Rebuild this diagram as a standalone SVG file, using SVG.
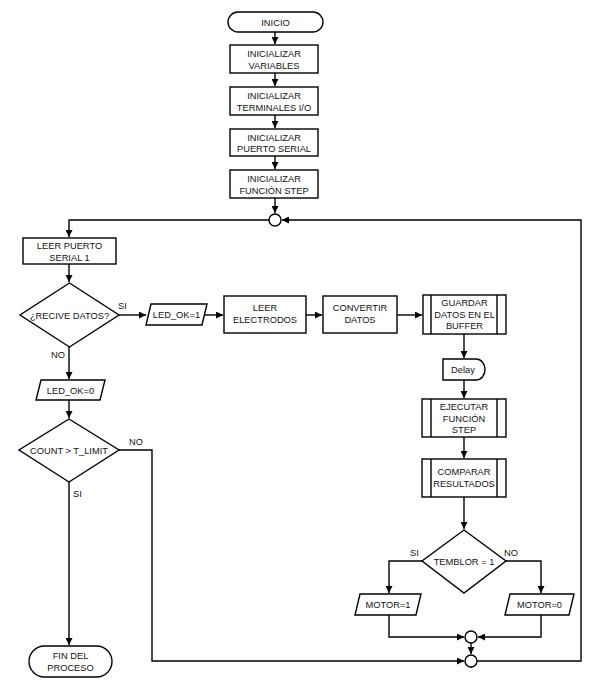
<svg xmlns="http://www.w3.org/2000/svg" width="599" height="683" viewBox="0 0 599 683">
<style>
.s{fill:#fff;stroke:#000;stroke-width:1.4}
.l{fill:none;stroke:#000;stroke-width:1.4}
text{font-family:"Liberation Sans",Arial,sans-serif;font-size:9.3px;fill:#111;text-anchor:middle}
.lb{text-anchor:start}
</style>
<defs>
<marker id="a" viewBox="0 0 10 10" refX="10" refY="5" markerWidth="7" markerHeight="7" markerUnits="userSpaceOnUse" orient="auto"><path d="M0,0L10,5L0,10z" fill="#000"/></marker>
</defs>
<g id="connectors">
<path class="l" d="M275,32V44" marker-end="url(#a)"/>
<path class="l" d="M275,73V86" marker-end="url(#a)"/>
<path class="l" d="M275,115V128" marker-end="url(#a)"/>
<path class="l" d="M275,156V169" marker-end="url(#a)"/>
<path class="l" d="M275,198V213" marker-end="url(#a)"/>
<path class="l" d="M269,220H69V237" marker-end="url(#a)"/>
<path class="l" d="M471,668V661M477,661H581V220H282" marker-end="url(#a)"/>
<path class="l" d="M69,264V282" marker-end="url(#a)"/>
<path class="l" d="M119,315H146" marker-end="url(#a)"/>
<path class="l" d="M205,315H223" marker-end="url(#a)"/>
<path class="l" d="M306,315H322" marker-end="url(#a)"/>
<path class="l" d="M397,315H422" marker-end="url(#a)"/>
<path class="l" d="M69,347V379" marker-end="url(#a)"/>
<path class="l" d="M69,400V418" marker-end="url(#a)"/>
<path class="l" d="M69,482V645" marker-end="url(#a)"/>
<path class="l" d="M119,450H152V661H464" marker-end="url(#a)"/>
<path class="l" d="M464,334V358" marker-end="url(#a)"/>
<path class="l" d="M464,380V398" marker-end="url(#a)"/>
<path class="l" d="M464,437V458" marker-end="url(#a)"/>
<path class="l" d="M464,497V529" marker-end="url(#a)"/>
<path class="l" d="M422,561H389V593" marker-end="url(#a)"/>
<path class="l" d="M506,561H541V593" marker-end="url(#a)"/>
<path class="l" d="M389,615V637H464" marker-end="url(#a)"/>
<path class="l" d="M541,615V637H478" marker-end="url(#a)"/>
<path class="l" d="M471,643V654" marker-end="url(#a)"/>
</g>
<g id="inicio"><rect class="s" x="228" y="12" width="95" height="20" rx="10"/><text x="275.5" y="25.5">INICIO</text></g>
<g id="init-vars"><rect class="s" x="230" y="45" width="88" height="28"/><text x="274" y="57">INICIALIZAR</text><text x="274" y="68.5">VARIABLES</text></g>
<g id="init-term"><rect class="s" x="230" y="87" width="88" height="28"/><text x="274" y="99">INICIALIZAR</text><text x="274" y="110.5">TERMINALES I/O</text></g>
<g id="init-serial"><rect class="s" x="230" y="129" width="88" height="27"/><text x="274" y="140.5">INICIALIZAR</text><text x="274" y="152">PUERTO SERIAL</text></g>
<g id="init-step"><rect class="s" x="230" y="170" width="88" height="28"/><text x="274" y="182">INICIALIZAR</text><text x="274" y="193.5">FUNCIÓN STEP</text></g>
<g id="j1"><circle class="s" cx="275" cy="220" r="6"/></g>
<g id="leer-puerto"><rect class="s" x="23" y="238" width="93" height="26"/><text x="69.5" y="249">LEER PUERTO</text><text x="69.5" y="260.5">SERIAL 1</text></g>
<g id="recive"><path class="s" d="M69.5,283L119,315L69.5,347L20,315Z"/><text x="69.5" y="318.5">¿RECIVE DATOS?</text><text class="lb" x="118" y="309">SI</text><text class="lb" x="51" y="358">NO</text></g>
<g id="led1"><path class="s" d="M151,304H207L202,325H146Z"/><text x="176.5" y="318">LED_OK=1</text></g>
<g id="leer-elec"><rect class="s" x="224" y="296" width="82" height="37"/><text x="265" y="311">LEER</text><text x="265" y="322.5">ELECTRODOS</text></g>
<g id="convertir"><rect class="s" x="323" y="296" width="74" height="37"/><text x="360" y="311">CONVERTIR</text><text x="360" y="322.5">DATOS</text></g>
<g id="guardar"><rect class="s" x="423" y="295" width="83" height="39"/><path class="l" d="M431,295V334M497,295V334"/><text x="464.5" y="306">GUARDAR</text><text x="464.5" y="317.5">DATOS EN EL</text><text x="464.5" y="329">BUFFER</text></g>
<g id="delay"><path class="s" d="M443,359H476A9,10.5 0 0 1 476,380H443Z"/><text x="463" y="373">Delay</text></g>
<g id="ejecutar"><rect class="s" x="422" y="399" width="84" height="38"/><path class="l" d="M431,399V437M497,399V437"/><text x="464" y="410">EJECUTAR</text><text x="464" y="421.5">FUNCIÓN</text><text x="464" y="433">STEP</text></g>
<g id="comparar"><rect class="s" x="422" y="459" width="84" height="38"/><path class="l" d="M431,459V497M497,459V497"/><text x="464" y="475">COMPARAR</text><text x="464" y="486.5">RESULTADOS</text></g>
<g id="led0"><path class="s" d="M41,380H105L100,400H36Z"/><text x="70.5" y="393.5">LED_OK=0</text></g>
<g id="count"><path class="s" d="M69,419L119,450L69,482L19,450Z"/><text x="69" y="453.5">COUNT &gt; T_LIMIT</text><text class="lb" x="129" y="445">NO</text><text class="lb" x="73" y="497">SI</text></g>
<g id="fin"><rect class="s" x="29" y="646" width="83" height="31" rx="15.5"/><text x="70.5" y="659">FIN DEL</text><text x="70.5" y="670.5">PROCESO</text></g>
<g id="temblor"><path class="s" d="M464,530L506,561L464,593L422,561Z"/><text x="464" y="564.5">TEMBLOR = 1</text><text class="lb" x="410" y="556">SI</text><text class="lb" x="504" y="556">NO</text></g>
<g id="motor1"><path class="s" d="M360,594H421L416,615H355Z"/><text x="388" y="608">MOTOR=1</text></g>
<g id="motor0"><path class="s" d="M510,594H574L569,615H505Z"/><text x="539.5" y="608">MOTOR=0</text></g>
<g id="j2"><circle class="s" cx="471" cy="637" r="6"/></g>
<g id="j3"><circle class="s" cx="471" cy="661" r="6"/></g>
</svg>
